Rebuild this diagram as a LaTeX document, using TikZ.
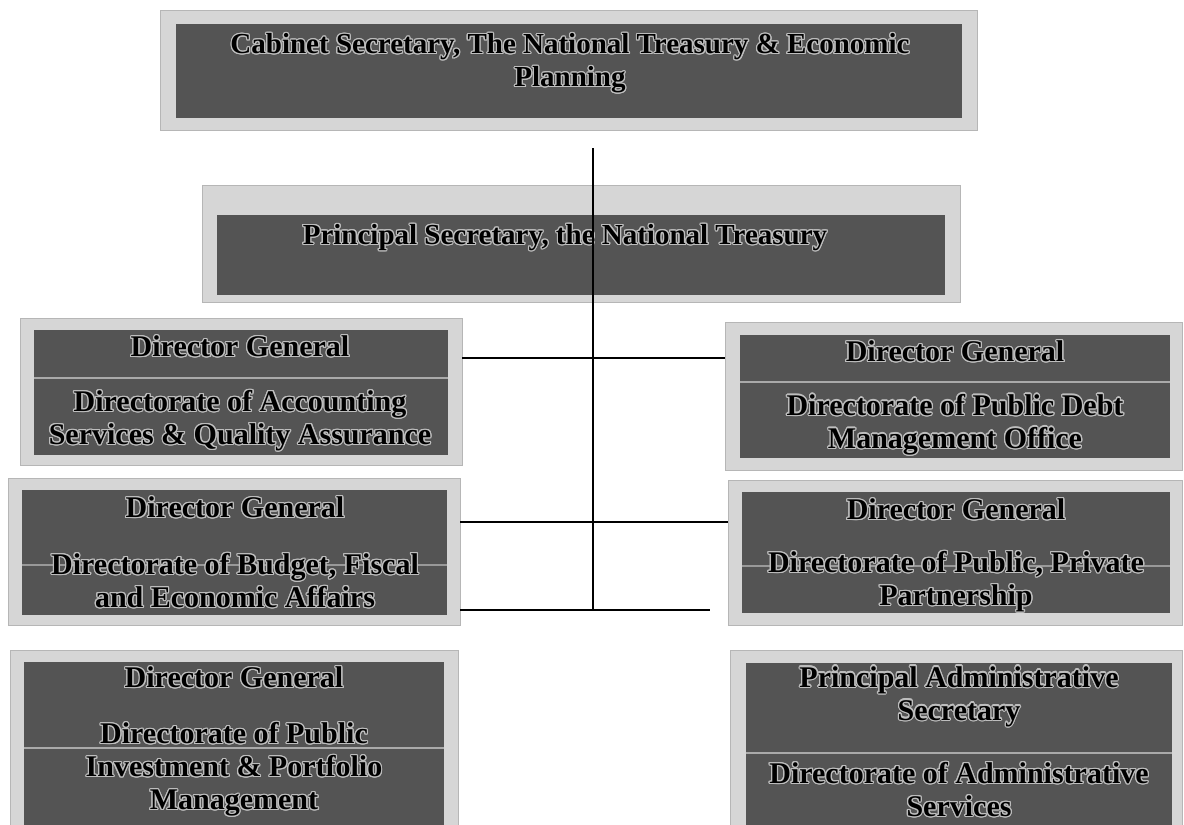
\documentclass[tikz,border=0pt]{standalone}
\usepackage{fontspec}
\setmainfont{Liberation Serif}
\usepackage[copies]{contour}
\contourlength{1.2pt}
\definecolor{framegray}{RGB}{214,214,214}
\definecolor{boxgray}{RGB}{84,84,84}
\definecolor{halogray}{RGB}{190,190,190}
\definecolor{divgray}{RGB}{170,170,170}
\newcommand{\hl}[1]{\contour{halogray}{#1}}
\tikzset{
  frame/.style={rectangle, fill=framegray, draw=framegray!85!black, line width=0.6pt, inner sep=0pt},
  panel/.style={rectangle, fill=boxgray, inner sep=0pt},
  lbl/.style={text=black, font=\bfseries\fontsize{30}{33}\selectfont, align=center, inner sep=0pt},
  toplbl/.style={text=black, font=\bfseries\fontsize{29}{33}\selectfont, align=center, inner sep=0pt},
  divider/.style={draw=divgray, line width=1.2pt},
  conn/.style={draw=black, line width=1.3pt}
}
\begin{document}
\begin{tikzpicture}[x=1pt,y=-1pt]
\useasboundingbox (0,0) rectangle (1184,825);
\fill[white] (0,0) rectangle (1184,825);
\clip (0,0) rectangle (1184,825);
% Cabinet Secretary
\node[frame, minimum width=817, minimum height=120] (cabF) at (568.5,70) {};
\node[panel, minimum width=786, minimum height=94] (cab) at (569,71) {};
\node[toplbl] (cabT) at (570,64) {\hl{Cabinet Secretary, The National Treasury \& Economic}\\\hl{Planning}};
% Principal Secretary
\node[frame, minimum width=758, minimum height=117] (psF) at (581,243.5) {};
\node[panel, minimum width=728, minimum height=80] (ps) at (581,255) {};
\node[toplbl] (psT) at (565,238) {\hl{Principal Secretary, the National Treasury}};
% Left 1
\node[frame, minimum width=442, minimum height=147] (l1F) at (241,391.5) {};
\node[panel, minimum width=414, minimum height=125] (l1) at (241,392.5) {};
\draw[divider] (l1.west |- 0,378) -- (l1.east |- 0,378);
\node[lbl] (l1a) at (240,347) {\hl{Director General}};
\node[lbl] (l1b) at (240,421) {\hl{Directorate of Accounting}\\\hl{Services \& Quality Assurance}};
% Right 1
\node[frame, minimum width=457, minimum height=148] (r1F) at (953.5,396) {};
\node[panel, minimum width=430, minimum height=123] (r1) at (955,396.5) {};
\draw[divider] (r1.west |- 0,382) -- (r1.east |- 0,382);
\node[lbl] (r1a) at (955,352) {\hl{Director General}};
\node[lbl] (r1b) at (955,425) {\hl{Directorate of Public Debt}\\\hl{Management Office}};
% Left 2
\node[frame, minimum width=452, minimum height=147] (l2F) at (234,551.5) {};
\node[panel, minimum width=425, minimum height=125] (l2) at (234.5,552.5) {};
\draw[divider, draw=divgray!80!boxgray] (l2.west |- 0,565) -- (l2.east |- 0,565);
\node[lbl] (l2a) at (235,508) {\hl{Director General}};
\node[lbl] (l2b) at (235,581) {\hl{Directorate of Budget, Fiscal}\\\hl{and Economic Affairs}};
% Right 2
\node[frame, minimum width=454, minimum height=145] (r2F) at (955,552.5) {};
\node[panel, minimum width=428, minimum height=121] (r2) at (956,552.5) {};
\draw[divider, draw=divgray!80!boxgray] (r2.west |- 0,566) -- (r2.east |- 0,566);
\node[lbl] (r2a) at (956,510) {\hl{Director General}};
\node[lbl] (r2b) at (956,582) {\hl{Directorate of Public, Private}\\\hl{Partnership}};
% Left 3
\node[frame, minimum width=448, minimum height=190] (l3F) at (234,745) {};
\node[panel, minimum width=420, minimum height=170] (l3) at (234,747) {};
\draw[divider] (l3.west |- 0,748) -- (l3.east |- 0,748);
\node[lbl] (l3a) at (234,678) {\hl{Director General}};
\node[lbl] (l3b) at (234,770) {\hl{Directorate of Public}\\\hl{Investment \& Portfolio}\\\hl{Management}};
% Right 3
\node[frame, minimum width=452, minimum height=190] (r3F) at (956,745) {};
\node[panel, minimum width=426, minimum height=170] (r3) at (959,748) {};
\draw[divider] (r3.west |- 0,753) -- (r3.east |- 0,753);
\node[lbl] (r3a) at (959,697) {\hl{Principal Administrative}\\\hl{Secretary}};
\node[lbl] (r3b) at (959,790) {\hl{Directorate of Administrative}\\\hl{Services}};
% connectors
\coordinate (top) at (593,148);
\coordinate (bot) at (593,610);
\coordinate (free) at (710,610);
\draw[conn] (top) -- (bot);
\draw[conn] (l1F.east |- 0,358) -- (r1F.west |- 0,358);
\draw[conn] (l2F.east |- 0,522) -- (r2F.west |- 0,522);
\draw[conn] (l2F.east |- 0,610) -- (free);
\end{tikzpicture}
\end{document}
